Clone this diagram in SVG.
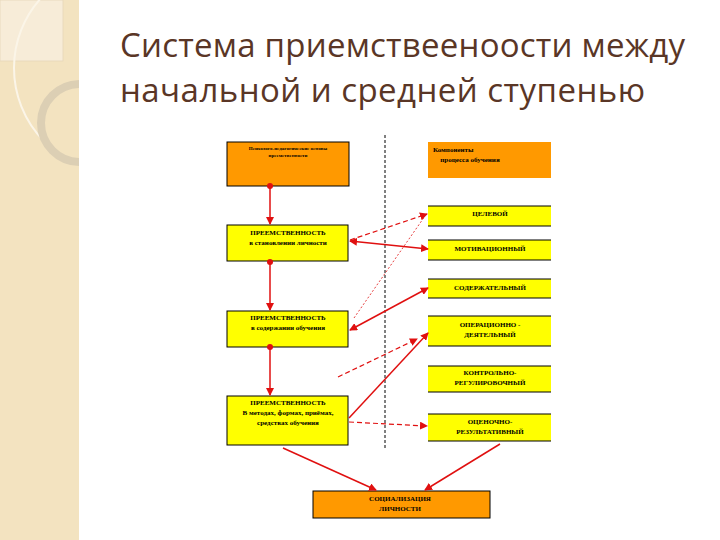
<svg xmlns="http://www.w3.org/2000/svg" width="720" height="540" viewBox="0 0 720 540">
<defs>
<marker id="ah" markerWidth="8" markerHeight="8" refX="7" refY="4" orient="auto" markerUnits="userSpaceOnUse"><path d="M0,0 L8,4 L0,8 z" fill="#e01010"/></marker>
<marker id="as" markerWidth="8" markerHeight="8" refX="1" refY="4" orient="auto" markerUnits="userSpaceOnUse"><path d="M8,0 L0,4 L8,8 z" fill="#e01010"/></marker>
<marker id="dot" markerWidth="6" markerHeight="6" refX="3" refY="3" markerUnits="userSpaceOnUse"><circle cx="3" cy="3" r="3" fill="#e01010"/></marker>
<clipPath id="strip"><rect x="0" y="0" width="79" height="540"/></clipPath>
</defs>
<style>
.or{fill:#ff9900;stroke:#000;stroke-width:1}
.ye{fill:#ffff00;stroke:#000;stroke-width:1}
.yr{fill:#ffff00}
.hl{stroke:#000;stroke-width:1.2}
text{font-family:"Liberation Serif",serif;font-size:7px;fill:#000;text-anchor:middle;font-weight:bold}
.c{stroke:#e01010;stroke-width:1.5;fill:none}
.d{stroke:#e01010;stroke-width:1.2;stroke-dasharray:5,3;fill:none}
.t{font-family:"Open Sans","DejaVu Sans",sans-serif;font-size:33px;fill:#5a3626;text-anchor:start;font-weight:normal}
</style>
<rect width="720" height="540" fill="#fff"/>
<rect x="0" y="0" width="79" height="540" fill="#f3e3c0"/>
<g clip-path="url(#strip)">
<rect x="0" y="0" width="63" height="61" fill="#f7ecd8" stroke="#e6d6b8" stroke-width="0.8"/>
<circle cx="118" cy="68" r="104" fill="none" stroke="#fbf5e8" stroke-width="2"/>
<circle cx="80" cy="123" r="39" fill="none" stroke="#dccfb4" stroke-width="8"/>
</g>
<text class="t" x="120" y="57" textLength="565">Система приемствееноости между</text>
<text class="t" x="120" y="102" textLength="525">начальной и средней ступенью</text>
<line x1="385" y1="135" x2="385" y2="448" stroke="#000" stroke-width="1" stroke-dasharray="3,2"/>
<g id="n-top-left"><rect class="or" x="227" y="142" width="122" height="44"/><text x="288" y="150" style="font-size:5px">Психолого-педагогические основы</text><text x="288" y="157" style="font-size:5px">преемственности</text></g>
<g id="n-top-right"><rect x="428" y="142" width="123" height="36" fill="#ff9900"/><text x="433" y="152" style="text-anchor:start">Компоненты</text><text x="470" y="162">процесса обучения</text></g>
<g id="n-b1"><rect class="ye" x="227" y="225" width="121" height="36"/><text x="288" y="235">ПРЕЕМСТВЕННОСТЬ</text><text x="288" y="245">в становлении личности</text></g>
<g id="n-b2"><rect class="ye" x="227" y="311" width="121" height="36"/><text x="288" y="320">ПРЕЕМСТВЕННОСТЬ</text><text x="288" y="330">в содержании обучения</text></g>
<g id="n-b3"><rect class="ye" x="227" y="396" width="121" height="49"/><text x="288" y="405">ПРЕЕМСТВЕННОСТЬ</text><text x="288" y="415">В методах, формах, приёмах,</text><text x="288" y="425">средствах обучения</text></g>
<g id="n-r1"><rect class="yr" x="428" y="206" width="123" height="20"/><line class="hl" x1="428" y1="206" x2="551" y2="206"/><line class="hl" x1="428" y1="226" x2="551" y2="226"/><text x="490" y="216">ЦЕЛЕВОЙ</text></g>
<g id="n-r2"><rect class="yr" x="428" y="240" width="123" height="20"/><line class="hl" x1="428" y1="240" x2="551" y2="240"/><line class="hl" x1="428" y1="260" x2="551" y2="260"/><text x="490" y="251">МОТИВАЦИОННЫЙ</text></g>
<g id="n-r3"><rect class="yr" x="428" y="279" width="123" height="19"/><line class="hl" x1="428" y1="279" x2="551" y2="279"/><line class="hl" x1="428" y1="298" x2="551" y2="298"/><text x="490" y="290">СОДЕРЖАТЕЛЬНЫЙ</text></g>
<g id="n-r4"><rect class="yr" x="428" y="316" width="123" height="30"/><line class="hl" x1="428" y1="316" x2="551" y2="316"/><line class="hl" x1="428" y1="346" x2="551" y2="346"/><text x="490" y="327">ОПЕРАЦИОННО -</text><text x="490" y="337">ДЕЯТЕЛЬНЫЙ</text></g>
<g id="n-r5"><rect class="yr" x="428" y="366" width="123" height="26"/><line class="hl" x1="428" y1="366" x2="551" y2="366"/><line class="hl" x1="428" y1="392" x2="551" y2="392"/><text x="490" y="375">КОНТРОЛЬНО-</text><text x="490" y="385">РЕГУЛИРОВОЧНЫЙ</text></g>
<g id="n-r6"><rect class="yr" x="428" y="414" width="123" height="27"/><line class="hl" x1="428" y1="414" x2="551" y2="414"/><line class="hl" x1="428" y1="441" x2="551" y2="441"/><text x="490" y="424">ОЦЕНОЧНО-</text><text x="490" y="434">РЕЗУЛЬТАТИВНЫЙ</text></g>
<g id="n-bottom"><rect class="or" x="313" y="491" width="177" height="27"/><text x="400" y="501">СОЦИАЛИЗАЦИЯ</text><text x="400" y="511">ЛИЧНОСТИ</text></g>
<g id="connectors">
<line class="c" x1="270" y1="186" x2="270" y2="224" marker-start="url(#dot)" marker-end="url(#ah)"/>
<line class="c" x1="270" y1="262" x2="270" y2="310" marker-start="url(#dot)" marker-end="url(#ah)"/>
<line class="c" x1="270" y1="347" x2="270" y2="395" marker-start="url(#dot)" marker-end="url(#ah)"/>
<line class="c" x1="350" y1="241" x2="428" y2="249" marker-start="url(#as)" marker-end="url(#ah)"/>
<line class="d" x1="350" y1="240" x2="427" y2="214" marker-end="url(#ah)"/>
<line x1="354" y1="318" x2="425" y2="216" stroke="#e01010" stroke-width="0.8" stroke-dasharray="2,2"/>
<line class="c" x1="350" y1="330" x2="428" y2="288" marker-start="url(#as)" marker-end="url(#ah)"/>
<line class="d" x1="338" y1="377" x2="417" y2="339" marker-end="url(#ah)"/>
<line class="c" x1="349" y1="418" x2="428" y2="333" marker-end="url(#ah)"/>
<line class="d" x1="349" y1="422" x2="427" y2="426" marker-end="url(#ah)"/>
<line class="c" x1="283" y1="448" x2="376" y2="490" stroke-width="1.2" marker-end="url(#ah)"/>
<line class="c" x1="500" y1="444" x2="425" y2="490" stroke-width="1.2" marker-end="url(#ah)"/>
</g>
</svg>
